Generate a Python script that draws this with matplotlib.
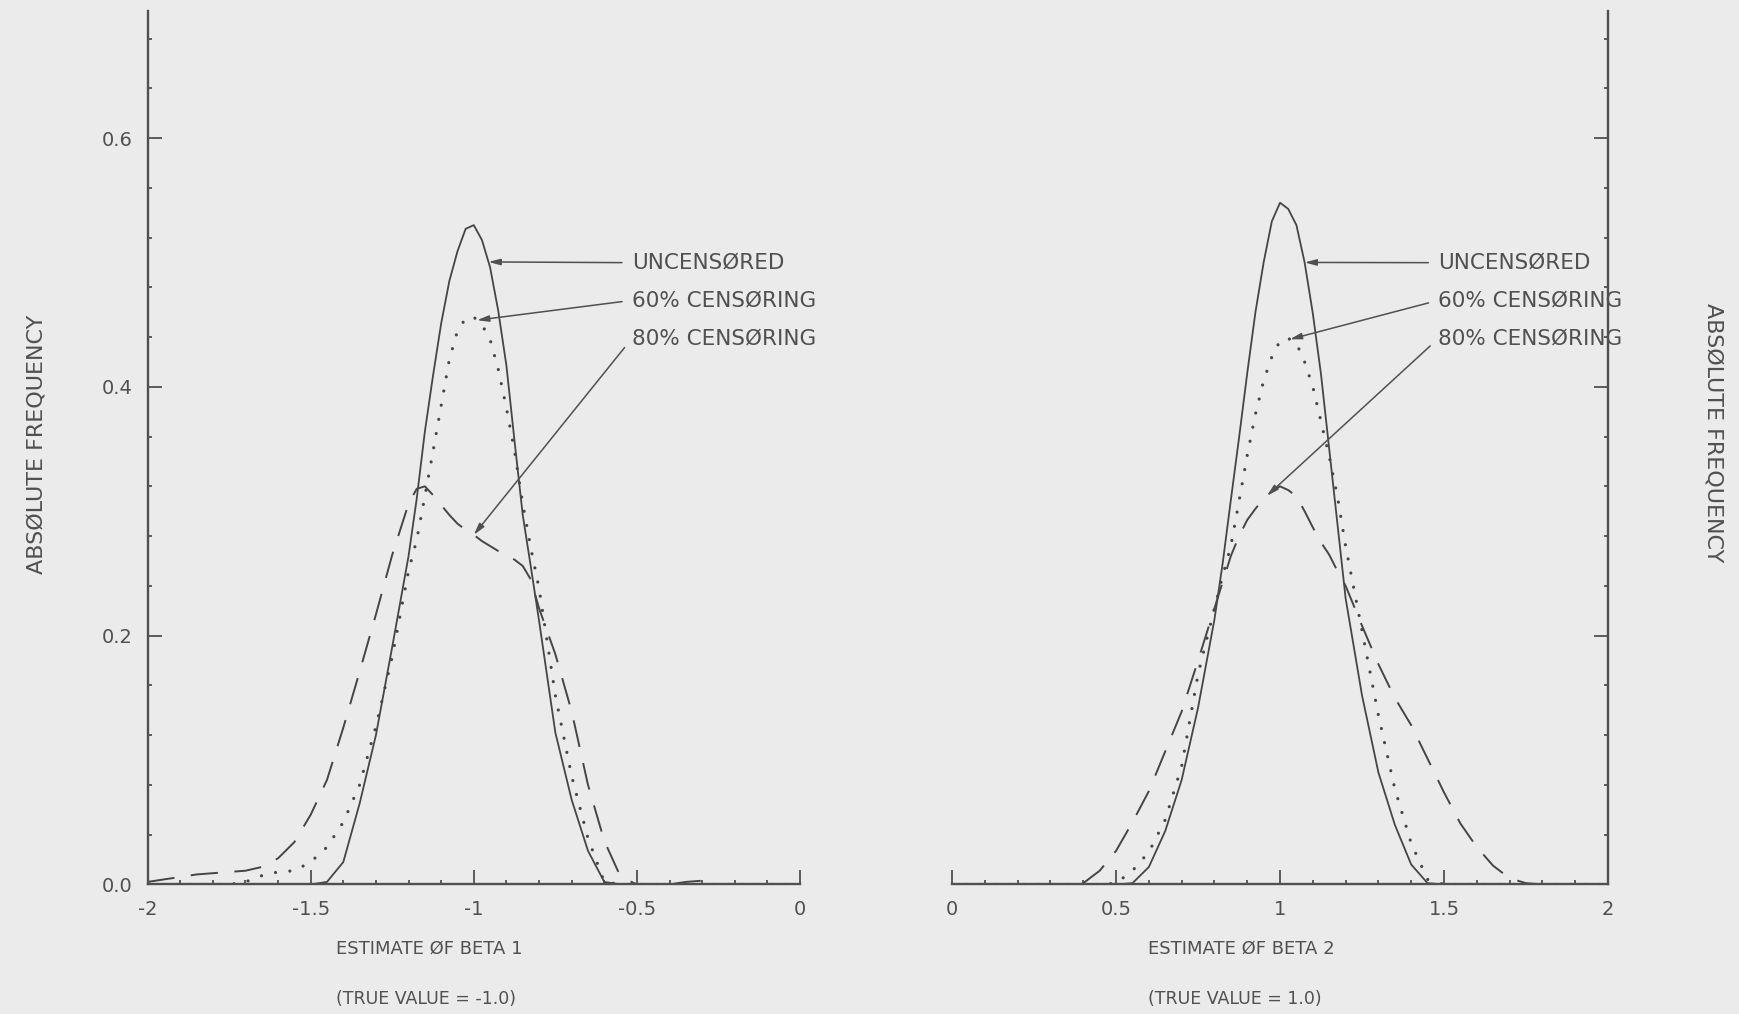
"""
Sampling distributions of the beta estimates under censoring
(replot of an old pen-plotter figure).
"""

import matplotlib
matplotlib.use('Agg')
import matplotlib.pyplot as plt
import numpy as np
from matplotlib.ticker import MultipleLocator

# ── Data ───────────────────────────────────────────────────────────────────────
# finer steps around the peaks, where the curves bend most
X_B1 = [-2.00, -1.95, -1.90, -1.85, -1.80, -1.75, -1.70, -1.65, -1.60, -1.55,
        -1.50, -1.45, -1.40, -1.35, -1.30, -1.25,
        -1.200, -1.175, -1.150, -1.125, -1.100, -1.075, -1.050, -1.025, -1.000,
        -0.975, -0.950, -0.925, -0.900, -0.875, -0.850, -0.825, -0.800,
        -0.75, -0.70, -0.65, -0.60, -0.55, -0.50, -0.45, -0.40, -0.35, -0.30,
        -0.25, -0.20, -0.15, -0.10, -0.05, 0.00]
B1_UNCENS = [0, 0, 0, 0, 0, 0, 0, 0, 0, 0,
             0, 0.002, 0.018, 0.065, 0.120, 0.191,
             0.264, 0.310, 0.364, 0.409, 0.451, 0.485, 0.509, 0.527, 0.530,
             0.518, 0.496, 0.461, 0.417, 0.356, 0.297, 0.255, 0.212,
             0.122, 0.068, 0.027, 0.002, 0, 0, 0, 0, 0, 0,
             0, 0, 0, 0, 0, 0]
B1_CENS60 = [0, 0, 0, 0, 0, 0, 0.002, 0.007, 0.010, 0.011,
             0.018, 0.030, 0.050, 0.080, 0.127, 0.183,
             0.252, 0.277, 0.312, 0.348, 0.385, 0.422, 0.445, 0.455, 0.456,
             0.450, 0.438, 0.414, 0.383, 0.348, 0.306, 0.270, 0.238,
             0.152, 0.087, 0.037, 0.002, 0, 0, 0, 0, 0, 0,
             0, 0, 0, 0, 0, 0]
B1_CENS80 = [0.002, 0.004, 0.006, 0.008, 0.009, 0.010, 0.011, 0.014, 0.021, 0.034,
             0.056, 0.084, 0.126, 0.171, 0.217, 0.265,
             0.306, 0.318, 0.320, 0.313, 0.305, 0.297, 0.290, 0.285, 0.281,
             0.276, 0.272, 0.268, 0.265, 0.261, 0.256, 0.245, 0.222,
             0.185, 0.139, 0.080, 0.035, 0.006, 0, 0, 0, 0.002, 0.003,
             0, 0, 0, 0, 0, 0]

X_B2 = [0.00, 0.05, 0.10, 0.15, 0.20, 0.25, 0.30, 0.35, 0.40, 0.45,
        0.50, 0.55, 0.60, 0.65, 0.70, 0.75,
        0.800, 0.825, 0.850, 0.875, 0.900, 0.925, 0.950, 0.975, 1.000,
        1.025, 1.050, 1.075, 1.100, 1.125, 1.150, 1.175, 1.200,
        1.25, 1.30, 1.35, 1.40, 1.45, 1.50, 1.55, 1.60, 1.65, 1.70,
        1.75, 1.80, 1.85, 1.90, 1.95, 2.00]
B2_UNCENS = [0, 0, 0, 0, 0, 0, 0, 0, 0, 0,
             0, 0.001, 0.014, 0.043, 0.084, 0.142,
             0.213, 0.258, 0.309, 0.359, 0.411, 0.460, 0.500, 0.533, 0.548,
             0.543, 0.530, 0.500, 0.459, 0.410, 0.350, 0.290, 0.230,
             0.152, 0.090, 0.048, 0.016, 0.001, 0, 0, 0, 0, 0,
             0, 0, 0, 0, 0, 0]
B2_CENS60 = [0, 0, 0, 0, 0, 0, 0, 0, 0, 0,
             0.001, 0.011, 0.026, 0.052, 0.095, 0.169,
             0.222, 0.248, 0.272, 0.308, 0.345, 0.378, 0.405, 0.424, 0.437,
             0.439, 0.435, 0.420, 0.400, 0.372, 0.344, 0.312, 0.272,
             0.204, 0.136, 0.077, 0.033, 0.004, 0, 0, 0, 0, 0,
             0, 0, 0, 0, 0, 0]
B2_CENS80 = [0, 0, 0, 0, 0, 0, 0, 0, 0.001, 0.011,
             0.027, 0.050, 0.075, 0.107, 0.139, 0.180,
             0.222, 0.243, 0.264, 0.280, 0.293, 0.302, 0.310, 0.316, 0.320,
             0.317, 0.312, 0.300, 0.287, 0.275, 0.265, 0.252, 0.240,
             0.208, 0.177, 0.150, 0.128, 0.101, 0.074, 0.049, 0.030, 0.015, 0.005,
             0.001, 0, 0, 0, 0, 0]

SERIES_NAMES = ['UNCENSØRED', '60% CENSØRING', '80% CENSØRING']
X_TICKS_B1 = [-2, -1.5, -1, -0.5, 0]
X_TICKLABELS_B1 = ['-2', '-1.5', '-1', '-0.5', '0']
X_TICKS_B2 = [0, 0.5, 1, 1.5, 2]
X_TICKLABELS_B2 = ['0', '0.5', '1', '1.5', '2']
Y_TICKS = [0.0, 0.2, 0.4, 0.6]
Y_TICKLABELS = ['0.0', '0.2', '0.4', '0.6']

# label anchor (x) and where each leader line meets its curve (x on the curve)
LABEL_X_B1 = -0.516
TIP_X_B1 = [-0.955, -0.99, -1.0]
LABEL_X_B2 = 1.482
TIP_X_B2 = [1.075, 1.03, 0.96]
LABEL_Y = [0.4998, 0.4695, 0.4387]

# ── Style ─────────────────────────────────────────────────────────────────────
BG = '#ebebeb'
INK = '#505050'
LINE = '#454545'
STYLES = [
    dict(ls='-', lw=1.3),
    dict(ls=(0, (0.01, 4.5)), lw=2.3, dash_capstyle='round'),
    dict(ls=(0, (14, 8.5)), lw=1.4),
]

plt.rcParams['axes.unicode_minus'] = False
plt.rcParams['font.family'] = ['DejaVu Sans']


def draw_panel(ax, x, curves, ticks, ticklabels, label_x, tip_x, side):
    for y, st in zip(curves, STYLES):
        ax.plot(x, y, color=LINE, **st)

    for name, y, tx, ly in zip(SERIES_NAMES, curves, tip_x, LABEL_Y):
        tip_y = np.interp(tx, x, y)
        ax.annotate(name, xy=(tx, tip_y), xytext=(label_x, ly),
                    ha='left', va='center', fontsize=15.5, color=INK,
                    arrowprops=dict(arrowstyle='-|>,head_length=0.45,head_width=0.12',
                                    color=INK, lw=1.1, relpos=(0, 0.5),
                                    shrinkA=5, shrinkB=0))

    ax.set_facecolor(BG)
    ax.set_xlim(ticks[0], ticks[-1])
    ax.set_ylim(0, 0.702)
    ax.set_xticks(ticks)
    ax.set_xticklabels(ticklabels)
    ax.xaxis.set_minor_locator(MultipleLocator(0.1))
    ax.set_yticks(Y_TICKS)
    ax.yaxis.set_minor_locator(MultipleLocator(0.04))

    for s in ax.spines.values():
        s.set_visible(False)
    for s in ('bottom', side):
        ax.spines[s].set_visible(True)
        ax.spines[s].set_linewidth(1.7)
        ax.spines[s].set_color(INK)

    ax.tick_params(which='both', direction='in', colors=INK)
    ax.tick_params(axis='x', which='major', length=10, width=1.3, pad=11, labelsize=14)
    ax.tick_params(axis='x', which='minor', length=3, width=1.3)
    ax.tick_params(axis='y', which='major', length=10, width=1.3, pad=11, labelsize=14)
    ax.tick_params(axis='y', which='minor', length=3, width=1.3)

    if side == 'left':
        ax.set_yticklabels(Y_TICKLABELS)
    else:
        ax.yaxis.tick_right()
        ax.tick_params(axis='y', which='both', labelright=False, direction='in')


def main():
    fig = plt.figure(figsize=(17.4, 10.14), dpi=100, facecolor=BG)
    ax1 = fig.add_axes([0.0848, 0.1278, 0.3750, 0.8612])
    ax2 = fig.add_axes([0.5472, 0.1278, 0.3769, 0.8612])

    draw_panel(ax1, X_B1, [B1_UNCENS, B1_CENS60, B1_CENS80],
               X_TICKS_B1, X_TICKLABELS_B1, LABEL_X_B1, TIP_X_B1, 'left')
    draw_panel(ax2, X_B2, [B2_UNCENS, B2_CENS60, B2_CENS80],
               X_TICKS_B2, X_TICKLABELS_B2, LABEL_X_B2, TIP_X_B2, 'right')

    fig.text(0.021, 0.562, 'ABSØLUTE FREQUENCY', rotation=90,
             ha='center', va='center', fontsize=16, color=INK)
    fig.text(0.985, 0.573, 'ABSØLUTE FREQUENCY', rotation=270,
             ha='center', va='center', fontsize=16, color=INK)

    fig.text(0.193, 0.064, 'ESTIMATE ØF BETA 1', ha='left', va='center',
             fontsize=13, color=INK)
    fig.text(0.193, 0.0148, '(TRUE VALUE = -1.0)', ha='left', va='center',
             fontsize=12.5, color=INK)
    fig.text(0.660, 0.064, 'ESTIMATE ØF BETA 2', ha='left', va='center',
             fontsize=13, color=INK)
    fig.text(0.660, 0.0148, '(TRUE VALUE = 1.0)', ha='left', va='center',
             fontsize=12.5, color=INK)

    fig.savefig('out.png', dpi=100, facecolor=BG)
    plt.close(fig)


if __name__ == '__main__':
    main()
